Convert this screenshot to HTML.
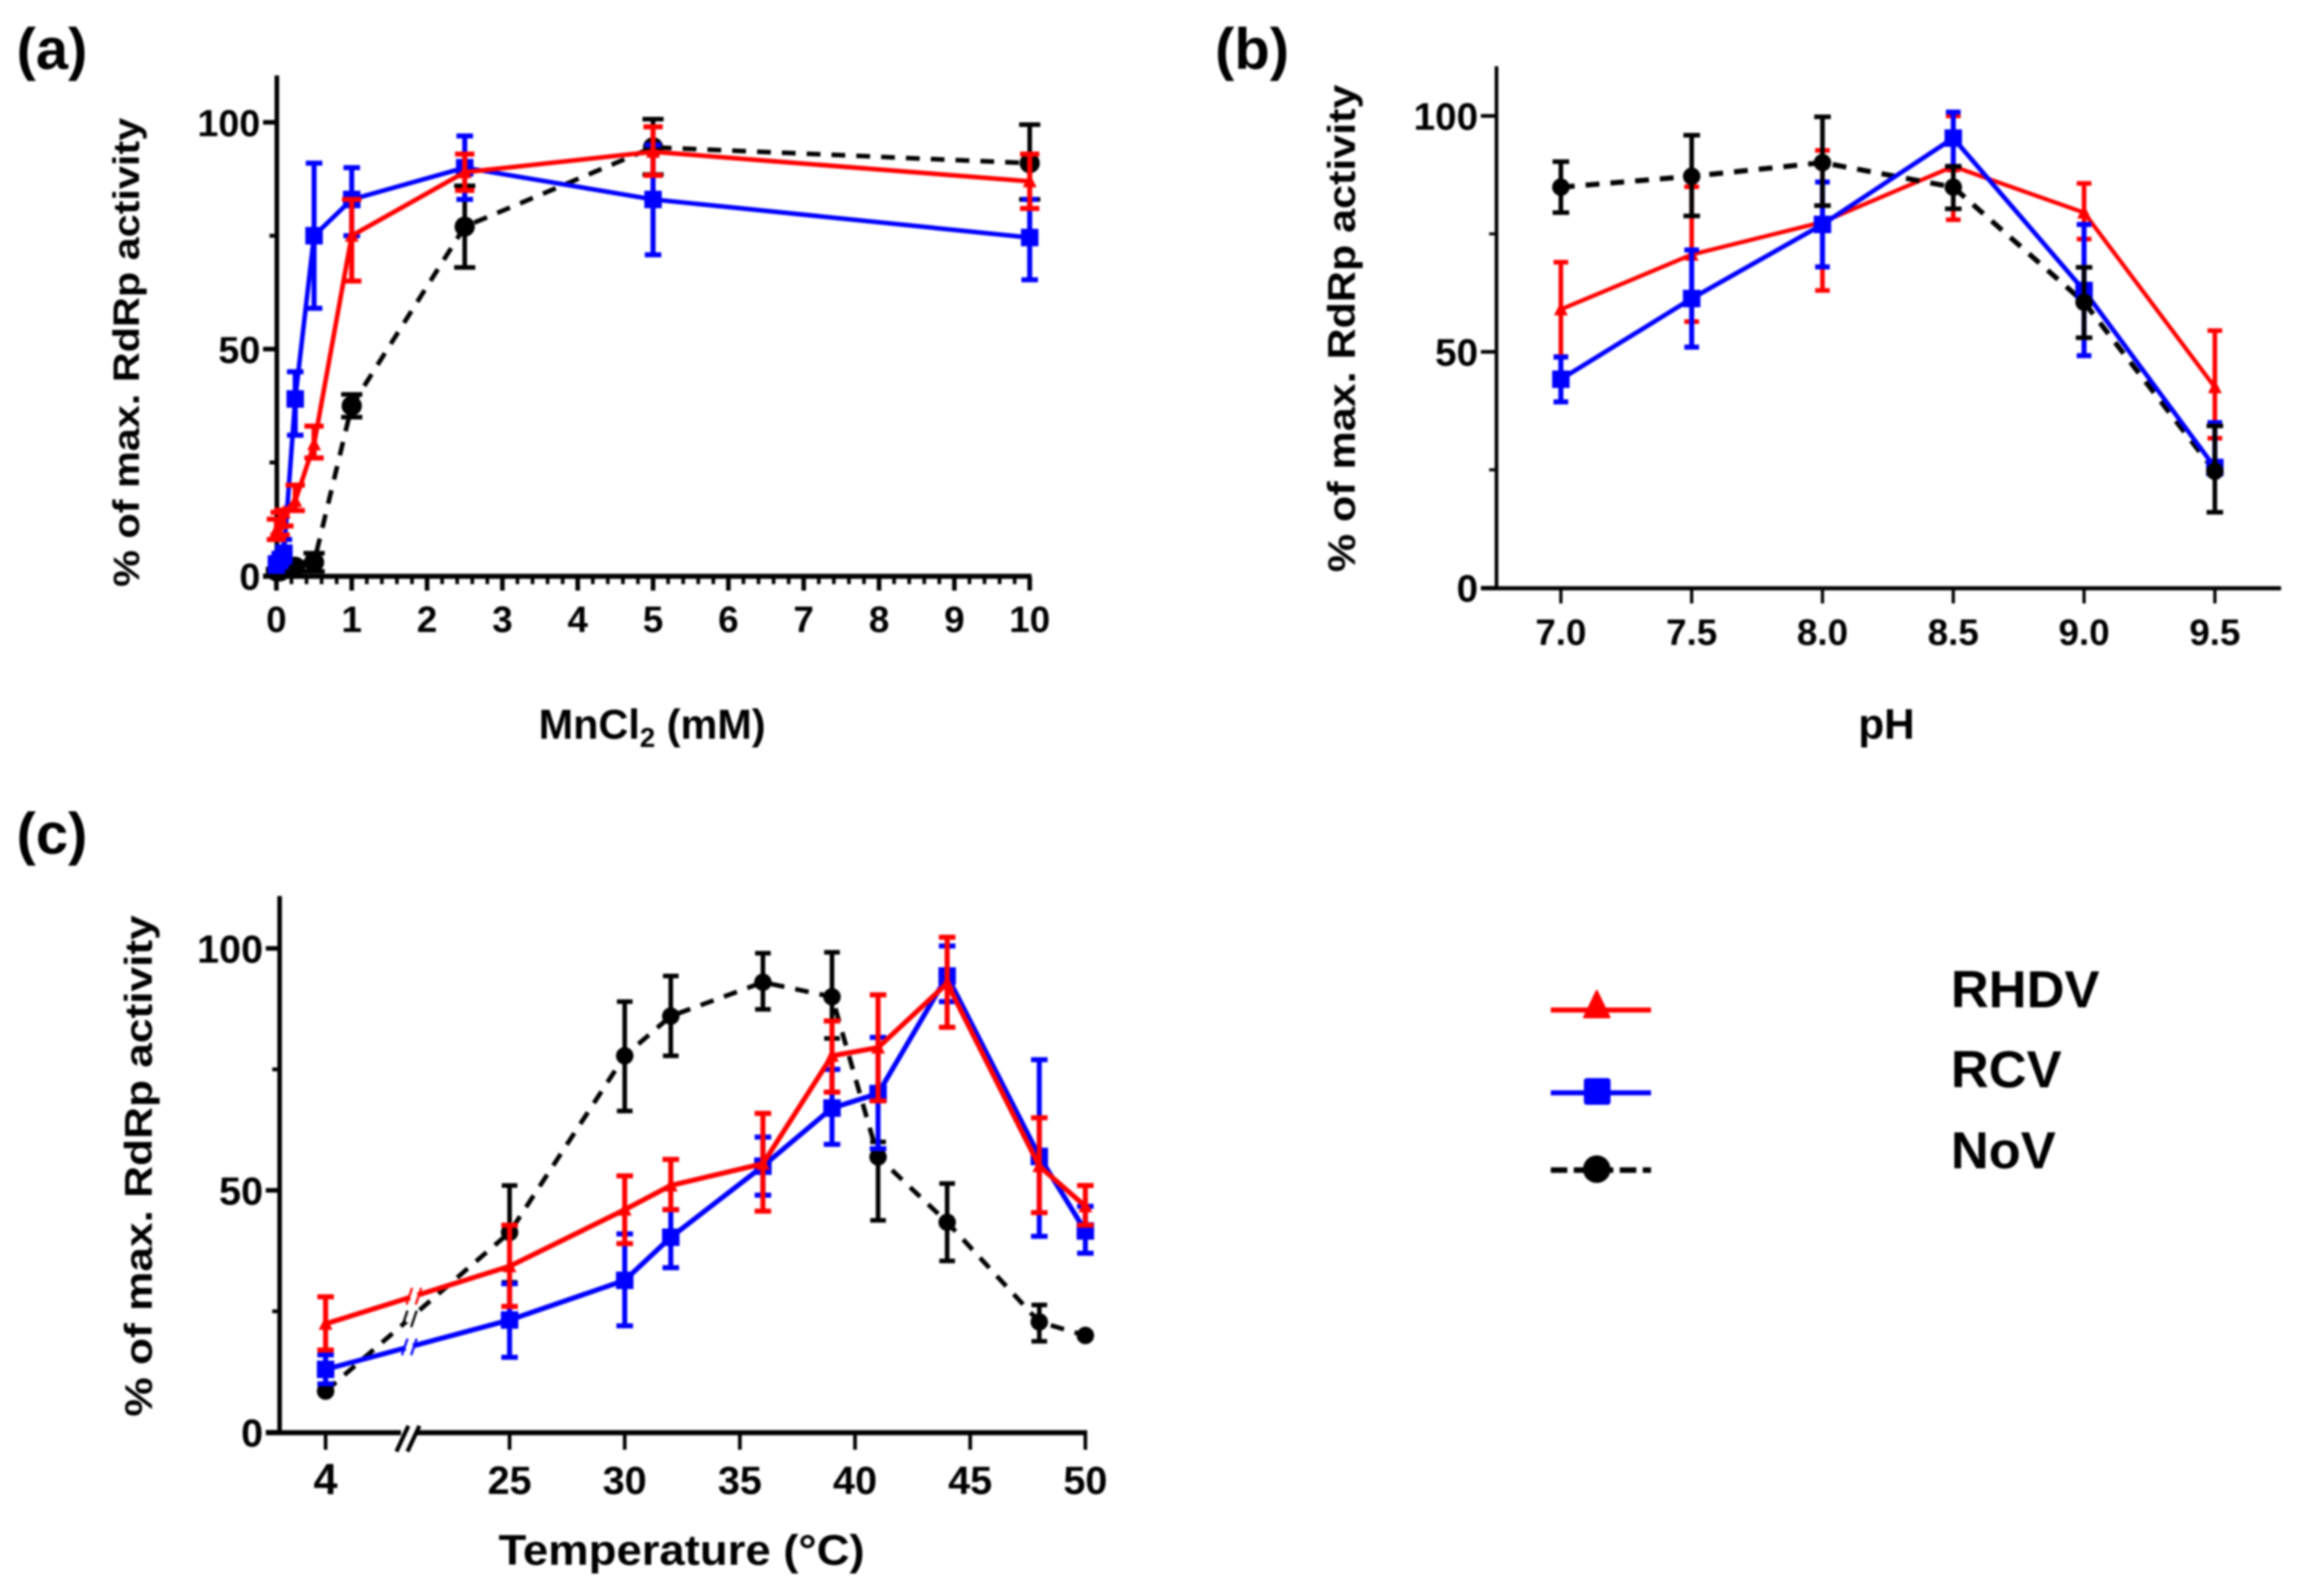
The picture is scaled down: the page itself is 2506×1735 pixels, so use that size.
<!DOCTYPE html>
<html lang="en">
<head>
<meta charset="utf-8">
<title>RdRp activity panels</title>
<style>
html,body{margin:0;padding:0;background:#fff;width:2506px;height:1735px;overflow:hidden}
svg{display:block;filter:blur(1px)}
text{font-family:"Liberation Sans",sans-serif;font-weight:700;fill:#000}
</style>
</head>
<body>
<svg id="figure" xmlns="http://www.w3.org/2000/svg" width="2506" height="1735" viewBox="0 0 2506 1735">
  <rect width="2506" height="1735" fill="#fff"/>
  <text x="18" y="75" font-size="63">(a)</text>
  <text x="1321" y="75" font-size="63">(b)</text>
  <text x="18" y="928" font-size="63">(c)</text>
  <text transform="translate(151,638) rotate(-90)" font-size="40" textLength="510" lengthAdjust="spacingAndGlyphs">% of max. RdRp activity</text>
  <text transform="translate(1473,622) rotate(-90)" font-size="42" textLength="530" lengthAdjust="spacingAndGlyphs">% of max. RdRp activity</text>
  <text transform="translate(165,1540) rotate(-90)" font-size="42" textLength="545" lengthAdjust="spacingAndGlyphs">% of max. RdRp activity</text>
  <text x="709" y="803" font-size="45" text-anchor="middle">MnCl<tspan font-size="30" dy="9">2</tspan><tspan dy="-9"> (mM)</tspan></text>
  <text x="2051" y="803" font-size="46" text-anchor="middle">pH</text>
  <text x="741" y="1701" font-size="46" text-anchor="middle" textLength="398" lengthAdjust="spacingAndGlyphs">Temperature (°C)</text>
  <g id="panel-a"></g>
  <g id="panel-b"></g>
  <g id="panel-c"></g>
  <g>
    <g>
      <line x1="1686" x2="1795" y1="1098" y2="1098" stroke="#f00" stroke-width="5.5"/>
      <path d="M1736 1077 L1750 1106 L1722 1106 Z" fill="#f00" stroke="#f00" stroke-width="2" stroke-linejoin="round"/>
      <text x="2121" y="1095" font-size="57">RHDV</text>
    </g>
    <g>
      <line x1="1686" x2="1795" y1="1188" y2="1188" stroke="#00f" stroke-width="5.5"/>
      <rect x="1722" y="1172" width="29" height="29" rx="3" fill="#00f"/>
      <text x="2121" y="1182" font-size="57">RCV</text>
    </g>
    <g>
      <line x1="1686" x2="1795" y1="1272" y2="1272" stroke="#000" stroke-width="6" stroke-dasharray="18 7 18 7 0 0"/>
      <circle cx="1736" cy="1271" r="15" fill="#000"/>
      <text x="2121" y="1270" font-size="57">NoV</text>
    </g>
  </g>
</svg>
<script>
// ---------- Panel (a): MnCl2 titration ----------
const doseCategories = [0, 0.05, 0.1, 0.25, 0.5, 1, 2.5, 5, 10];
const aRhdv   = [10, 11.5, 14, 16.5, 29, 75, 89, 93.5, 87];
const aRhdvHi = [12.5, 14, 14.5, 20, 33, 83, 93, 99, 93];
const aRhdvLo = [8, 9, 11, 14.4, 26, 65, 85, 88.3, 81];
const aRcv    = [2.5, 3.5, 5, 39, 75, 83, 90, 83, 74.6];
const aRcvHi  = [4, 5, 8, 45, 91, 90, 97, 95, 83];
const aRcvLo  = [1, 2, 3, 31, 59, 75, 83, 70.8, 65.3];
const aNov    = [1, 1, 1.5, 2, 3, 37.5, 77, 94.5, 91];
const aNovHi  = [1.5, 1.5, 2.5, 3, 5, 40, 86, 100.7, 99.5];
const aNovLo  = [0.5, 0.5, 0.5, 1, 1, 35, 68, 88.5, 83];
const aXTickLabels = [0, 1, 2, 3, 4, 5, 6, 7, 8, 9, 10];

// ---------- Panel (b): pH ----------
const phCategories = [7.0, 7.5, 8.0, 8.5, 9.0, 9.5];
const bRhdv   = [59, 70.6, 77.5, 89.3, 79.5, 42.5];
const bRhdvHi = [69, 85, 92.7, 100, 85.7, 54.5];
const bRhdvLo = [49, 56.4, 63, 78, 73.9, 31.7];
const bRcv    = [44.2, 61.3, 77, 95.3, 63, 25.5];
const bRcvHi  = [48.9, 71.6, 86, 100.8, 77, 35];
const bRcvLo  = [39.4, 51, 68, 89.3, 49.2, 25];
const bNov    = [84.9, 87.2, 90.1, 84.9, 60.5, 24.7];
const bNovHi  = [90.3, 95.9, 99.8, 89.3, 67.9, 34.3];
const bNovLo  = [79.5, 78.8, 81, 80.3, 53, 16];
const bXTickLabels = ["7.0", "7.5", "8.0", "8.5", "9.0", "9.5"];

// ---------- Panel (c): temperature ----------
const tempCategories = [4, 25, 30, 32, 36, 39, 41, 44, 48, 50];
const cRhdv   = [22.4, 34.3, 46, 51, 55.5, 77.8, 79.5, 92.8, 55, 46.7];
const cRhdvHi = [28, 42.8, 53, 56.4, 65.9, 85, 90.4, 102.3, 65, 51];
const cRhdvLo = [17, 26, 39, 46, 45.7, 70.3, 68.5, 83.7, 45.4, 42.8];
const cRcv    = [13, 23.2, 31.4, 40.3, 55, 67, 70, 94.3, 57, 41.6];
const cRcvHi  = [16, 30.7, 41, 46, 61, 75, 81.6, 100.5, 77, 46.7];
const cRcvLo  = [10, 15.5, 22, 34, 49, 59.5, 58.6, 89, 40.5, 37];
const cNov    = [8.5, 41.3, 77.8, 86, 93, 90, 56.9, 43.4, 22.8, 20];
const cNovHi  = [9.5, 51, 89, 94.3, 99, 99.2, 60, 51.4, 26.3, 20.5];
const cNovLo  = [8, 31, 66.4, 77.8, 87.4, 81.4, 43.8, 35.4, 18.8, 19.5];
const cXTickLabels = [25, 30, 35, 40, 45, 50];
const cBreakTemp = [4];
const yTickLabels = [0, 50, 100];
const yMinorTicks = [25, 75];

const NS = 'http://www.w3.org/2000/svg';
function mk(tag, attrs, parent) {
  const el = document.createElementNS(NS, tag);
  for (const k in attrs) el.setAttribute(k, attrs[k]);
  parent.appendChild(el);
  return el;
}

const RED = '#ff0000', BLUE = '#0000ff', BLACK = '#000000';

function yScaleOf(y0, y100) { return v => y0 + (y100 - y0) * v / 100; }

function drawYAxis(g, x, top, bottom, y, opt) {
  const axis = mk('line', {x1:x, x2:x, y1:top, y2:bottom + opt.w/2, stroke:'#000', 'stroke-width':opt.w}, g);
  
  
  yTickLabels.forEach(v => {
    const t = mk('line', {x1:x - opt.major, x2:x, y1:y(v), y2:y(v), stroke:'#000', 'stroke-width':opt.w}, g);
    
    
    const l = mk('text', {x:x - opt.major - 3, y:y(v) + opt.font*0.36, 'font-size':opt.font, 'text-anchor':'end'}, g);
    
    
    l.textContent = v;
  });
  yMinorTicks.forEach(v => {
    const t = mk('line', {x1:x - 8, x2:x, y1:y(v), y2:y(v), stroke:'#000', 'stroke-width':opt.w - 0.8}, g);
    
    
  });
}

function drawMarker(g, shape, px, py, color, size) {
  let m;
  if (shape === 'tri') {
    const h = size / 2;
    m = mk('path', {d:`M${px} ${py - h - 1} L${px + h} ${py + h - 1} L${px - h} ${py + h - 1} Z`, fill:color}, g);
  } else if (shape === 'sq') {
    m = mk('rect', {x:px - size/2, y:py - size/2, width:size, height:size, fill:color}, g);
  } else {
    m = mk('circle', {cx:px, cy:py, r:size/2, fill:color}, g);
  }
  
  
}

function drawLine(g, name, xs, vals, x, y, color, dashed, lw) {
  const pts = xs.map((c, i) => x(c) + ',' + y(vals[i])).join(' ');
  const attrs = {points:pts, fill:'none', stroke:color, 'stroke-width':lw, 'stroke-linejoin':'miter'};
  if (dashed) attrs['stroke-dasharray'] = '15 12';
  const p = mk('polyline', attrs, g);
  
  
}

function drawMarks(g, name, xs, vals, hi, lo, x, y, color, shape, size, capW, lw) {
  xs.forEach((c, i) => {
    const px = x(c);
    const bar = mk('line', {x1:px, x2:px, y1:y(hi[i]), y2:y(lo[i]), stroke:color, 'stroke-width':lw}, g);
    
    
    [hi[i], lo[i]].forEach(v => {
      const cap = mk('line', {x1:px - capW/2, x2:px + capW/2, y1:y(v), y2:y(v), stroke:color, 'stroke-width':lw}, g);
      
      
    });
    drawMarker(g, shape, px, y(vals[i]), color, size);
  });
}

// ---------- Panel A ----------
(function () {
  const g = document.getElementById('panel-a');
  const x = d => 300.5 + d * 81.9;
  const y = yScaleOf(626, 133);
  drawYAxis(g, 301, 82, 626, y, {w:5, major:15, font:41});
  const xAxis = mk('line', {x1:286, x2:x(10) + 2, y1:626.5, y2:626.5, stroke:'#000', 'stroke-width':5.5}, g);
  
  
  for (let k = 0; k <= 50; k++) {
    const major = k % 5 === 0;
    const t = mk('line', {x1:x(k/5), x2:x(k/5), y1:627, y2:major ? 642 : 635, stroke:'#000', 'stroke-width':major ? 5 : 4}, g);
    
    
  }
  aXTickLabels.forEach(v => {
    const l = mk('text', {x:x(v), y:687, 'font-size':40, 'text-anchor':'middle'}, g);
    
    
    l.textContent = v;
  });
  drawLine(g, 'nov', doseCategories, aNov, x, y, BLACK, true, 5);
  drawMarks(g, 'nov', doseCategories, aNov, aNovHi, aNovLo, x, y, BLACK, 'circle', 22, 23, 5);
  drawLine(g, 'rcv', doseCategories, aRcv, x, y, BLUE, false, 5);
  drawMarks(g, 'rcv', doseCategories, aRcv, aRcvHi, aRcvLo, x, y, BLUE, 'sq', 19, 18, 5.5);
  drawLine(g, 'rhdv', doseCategories, aRhdv, x, y, RED, false, 5);
  drawMarks(g, 'rhdv', doseCategories, aRhdv, aRhdvHi, aRhdvLo, x, y, RED, 'tri', 15, 21, 5.5);
})();

// ---------- Panel B ----------
(function () {
  const g = document.getElementById('panel-b');
  const x = p => 1697 + (p - 7) * 284.4;
  const y = yScaleOf(639, 126);
  drawYAxis(g, 1627, 72, 639, y, {w:4, major:17, font:42});
  const xAxis = mk('line', {x1:1610, x2:2480, y1:639.5, y2:639.5, stroke:'#000', 'stroke-width':4.5}, g);
  
  
  phCategories.forEach((p, i) => {
    const t = mk('line', {x1:x(p), x2:x(p), y1:640, y2:656, stroke:'#000', 'stroke-width':3.5}, g);
    
    
    const l = mk('text', {x:x(p), y:701, 'font-size':40, 'text-anchor':'middle'}, g);
    
    
    l.textContent = bXTickLabels[i];
  });
  drawLine(g, 'rhdv', phCategories, bRhdv, x, y, RED, false, 4.5);
  drawMarks(g, 'rhdv', phCategories, bRhdv, bRhdvHi, bRhdvLo, x, y, RED, 'tri', 15, 16, 5);
  drawLine(g, 'nov', phCategories, bNov, x, y, BLACK, true, 5.5);
  drawLine(g, 'rcv', phCategories, bRcv, x, y, BLUE, false, 5);
  drawMarks(g, 'rcv', phCategories, bRcv, bRcvHi, bRcvLo, x, y, BLUE, 'sq', 19, 16, 5.5);
  drawMarks(g, 'nov', phCategories, bNov, bNovHi, bNovLo, x, y, BLACK, 'circle', 19, 18, 5);
})();

// ---------- Panel C ----------
(function () {
  const g = document.getElementById('panel-c');
  const x = t => t < 10 ? 354 + (t - 4) * 25.04 : 554 + (t - 25) * 25.04;
  const y = yScaleOf(1557, 1031);
  drawYAxis(g, 304, 974, 1557, y, {w:5, major:15, font:43});
  const xAxisL = mk('line', {x1:289, x2:436, y1:1557.5, y2:1557.5, stroke:'#000', 'stroke-width':5.5}, g);
  
  
  const xAxisR = mk('line', {x1:452, x2:x(50) + 2, y1:1557.5, y2:1557.5, stroke:'#000', 'stroke-width':5.5}, g);
  
  
  const slashA = mk('line', {x1:431, x2:444, y1:1578, y2:1550, stroke:'#000', 'stroke-width':4.5}, g);
  
  
  const slashB = mk('line', {x1:443, x2:456, y1:1578, y2:1550, stroke:'#000', 'stroke-width':4.5}, g);
  
  
  cBreakTemp.concat(cXTickLabels).forEach(v => {
    const t = mk('line', {x1:x(v), x2:x(v), y1:1558, y2:1576, stroke:'#000', 'stroke-width':4}, g);
    
    
    const l = mk('text', {x:x(v), y:1624, 'font-size':v === 4 ? 47 : 43, 'text-anchor':'middle'}, g);
    
    
    l.textContent = v;
  });
  function lineBreak(vals, color, bx) {
    const f = (bx - x(tempCategories[0])) / (x(tempCategories[1]) - x(tempCategories[0]));
    const by = y(vals[0] + (vals[1] - vals[0]) * f);
    const gap = mk('line', {x1:bx - 4, x2:bx + 4, y1:by + 1.5, y2:by - 1.5, stroke:'#fff', 'stroke-width':6}, g);
    
    
    [-5, 5].forEach(d => {
      const s = mk('line', {x1:bx + d - 3, x2:bx + d + 3, y1:by + 9, y2:by - 9, stroke:color, 'stroke-width':2.5}, g);
      
      
    });
  }
  drawLine(g, 'nov', tempCategories, cNov, x, y, BLACK, true, 5);
  lineBreak(cNov, BLACK, 445);
  drawMarks(g, 'nov', tempCategories, cNov, cNovHi, cNovLo, x, y, BLACK, 'circle', 19, 17, 5);
  drawLine(g, 'rcv', tempCategories, cRcv, x, y, BLUE, false, 5.5);
  lineBreak(cRcv, BLUE, 445);
  drawMarks(g, 'rcv', tempCategories, cRcv, cRcvHi, cRcvLo, x, y, BLUE, 'sq', 19, 18, 5.5);
  drawLine(g, 'rhdv', tempCategories, cRhdv, x, y, RED, false, 5.5);
  lineBreak(cRhdv, RED, 450);
  drawMarks(g, 'rhdv', tempCategories, cRhdv, cRhdvHi, cRhdvLo, x, y, RED, 'tri', 15, 18, 5.5);
})();
</script>
</body>
</html>
